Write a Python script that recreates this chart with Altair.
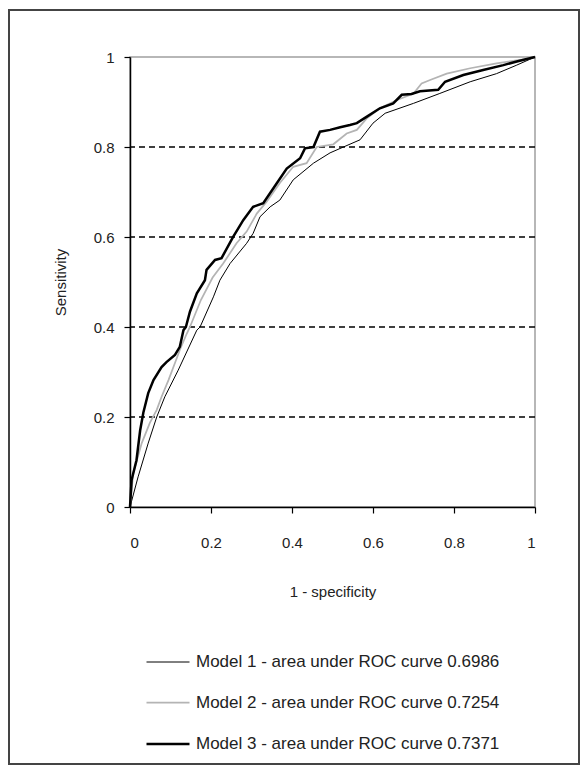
import altair as alt
import pandas as pd

labels = [
    "Model 1 - area under ROC curve 0.6986",
    "Model 2 - area under ROC curve 0.7254",
    "Model 3 - area under ROC curve 0.7371",
]
colors = ["#000000", "#b4b4b4", "#000000"]
widths = [1.0, 2.5, 3.0]

m1_x = [0, 0.02, 0.045, 0.066, 0.086, 0.119, 0.165, 0.173, 0.206, 0.222, 0.247, 0.288, 0.304,
        0.321, 0.346, 0.37, 0.403, 0.453, 0.494, 0.527, 0.568, 0.6, 0.63, 0.7, 0.765, 0.84,
        0.905, 0.955, 1]
m1_y = [0, 0.067, 0.142, 0.2, 0.245, 0.304, 0.393, 0.4, 0.467, 0.504, 0.541, 0.586, 0.608,
        0.645, 0.667, 0.682, 0.727, 0.764, 0.787, 0.8, 0.816, 0.853, 0.875, 0.897, 0.919, 0.945,
        0.963, 0.982, 1]

m2_x = [0, 0.008, 0.029, 0.049, 0.066, 0.078, 0.095, 0.111, 0.123, 0.14, 0.148, 0.175, 0.204,
        0.23, 0.263, 0.288, 0.313, 0.337, 0.37, 0.403, 0.436, 0.461, 0.502, 0.535, 0.56, 0.584,
        0.617, 0.658, 0.7, 0.72, 0.741, 0.782, 0.84, 0.905, 0.988, 1]
m2_y = [0, 0.075, 0.142, 0.187, 0.216, 0.245, 0.282, 0.32, 0.349, 0.385, 0.4, 0.46, 0.51,
        0.541, 0.586, 0.612, 0.652, 0.678, 0.72, 0.756, 0.764, 0.8, 0.806, 0.83, 0.838, 0.863,
        0.886, 0.904, 0.919, 0.941, 0.949, 0.963, 0.975, 0.986, 0.997, 1]

m3_x = [0, 0.004, 0.016, 0.025, 0.033, 0.045, 0.058, 0.078, 0.09, 0.111, 0.123, 0.132, 0.138,
        0.148, 0.165, 0.185, 0.189, 0.21, 0.226, 0.255, 0.28, 0.304, 0.329, 0.362, 0.387, 0.42,
        0.432, 0.453, 0.469, 0.494, 0.519, 0.543, 0.56, 0.584, 0.617, 0.65, 0.671, 0.695, 0.716,
        0.761, 0.778, 0.823, 0.872, 0.922, 0.955, 1]
m3_y = [0, 0.06, 0.104, 0.17, 0.21, 0.253, 0.282, 0.311, 0.322, 0.338, 0.356, 0.393, 0.4,
        0.434, 0.475, 0.504, 0.527, 0.549, 0.553, 0.601, 0.638, 0.667, 0.675, 0.719, 0.752, 0.775,
        0.797, 0.8, 0.834, 0.838, 0.844, 0.849, 0.853, 0.867, 0.886, 0.897, 0.916, 0.918, 0.924,
        0.927, 0.945, 0.96, 0.971, 0.982, 0.99, 1]

grid_vals = [0.2, 0.4, 0.6, 0.8]
tick_vals = [0, 0.2, 0.4, 0.6, 0.8, 1]

rows = []
for lab, xs, ys in zip(labels, [m1_x, m2_x, m3_x], [m1_y, m2_y, m3_y]):
    for i, (a, b) in enumerate(zip(xs, ys)):
        rows.append({"model": lab, "fpr": a, "tpr": b, "idx": i})
df = pd.DataFrame(rows)

FONT = "Liberation Sans"
W, H = 405, 450
LFS = 17

frame = alt.Chart(pd.DataFrame({"a": [0]})).mark_rect(
    fillOpacity=0, stroke="#444444", strokeWidth=2
).encode(
    x=alt.value(-121), x2=alt.value(449), y=alt.value(-47), y2=alt.value(707)
)

grid = alt.Chart(pd.DataFrame({"g": grid_vals})).mark_rule(
    color="black", strokeDash=[6, 4], strokeWidth=1.3
).encode(y=alt.Y("g:Q", scale=alt.Scale(domain=[0, 1])))

leg = dict(title=None, orient="none", legendX=15, legendY=583,
           symbolType="stroke", symbolSize=1849,
           labelFontSize=LFS, labelFont=FONT, labelColor="#222",
           rowPadding=10, labelOffset=5, labelLimit=500)

lines = alt.Chart(df).mark_line(interpolate="linear").encode(
    x=alt.X("fpr:Q", scale=alt.Scale(domain=[0, 1]),
            axis=alt.Axis(values=tick_vals, format="~g", title="1 - specificity",
                          titleX=W / 2, titleY=84, titleBaseline="middle")),
    y=alt.Y("tpr:Q", scale=alt.Scale(domain=[0, 1]),
            axis=alt.Axis(values=tick_vals, format="~g", title="Sensitivity",
                          titleX=-70, titleY=H / 2, titleAngle=-90,
                          titleBaseline="middle", titleAlign="center")),
    color=alt.Color("model:N", scale=alt.Scale(domain=labels, range=colors),
                    legend=alt.Legend(**leg)),
    strokeWidth=alt.StrokeWidth("model:N", scale=alt.Scale(domain=labels, range=widths),
                                legend=alt.Legend(**leg)),
    order=alt.Order("idx:Q"),
)

chart = alt.layer(frame, grid, lines).properties(
    width=W, height=H,
    autosize=alt.AutoSizeParams(type="none"),
    padding={"left": 122, "top": 49, "right": 45, "bottom": 259},
).configure_view(
    stroke="#a0a0a0", strokeWidth=1.5
).configure_axis(
    domainColor="black", domainWidth=1.5, tickColor="black", tickSize=6, tickWidth=1.2,
    grid=False, labelFont=FONT, labelFontSize=15, labelColor="#222",
    titleFont=FONT, titleFontSize=15, titleFontWeight="normal", titleColor="#222",
).configure_axisX(
    labelPadding=22
).configure_axisY(
    labelPadding=10
).configure_legend(
    labelFontSize=LFS, labelFont=FONT
)

chart.save("out.html", embed_options={"renderer": "svg", "actions": False})
